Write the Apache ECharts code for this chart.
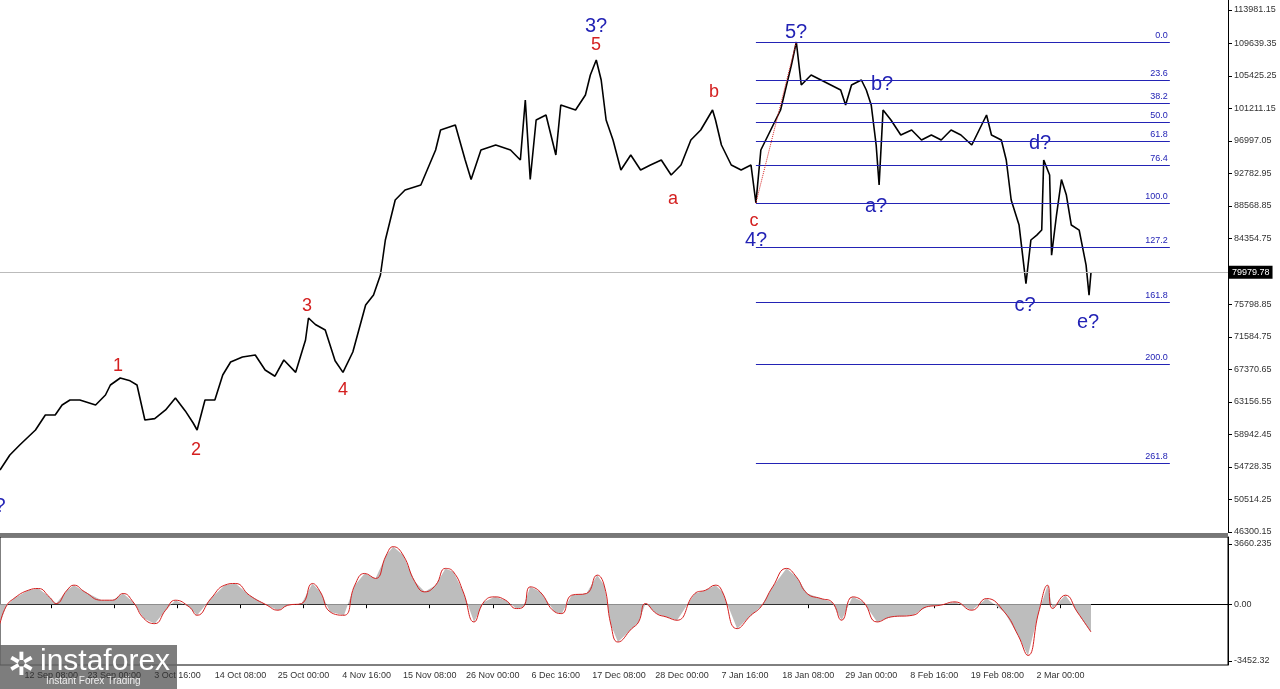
<!DOCTYPE html>
<html>
<head>
<meta charset="utf-8">
<script src="https://cdn.jsdelivr.net/npm/echarts@6/dist/echarts.min.js"></script>
<style>
  html, body { margin: 0; padding: 0; background: #fff; }
  #chart { width: 1280px; height: 689px; }
</style>
</head>
<body>
<div id="chart"></div>
<script>
// 4h bars, index -> date label
var barCount = 1247;
var startTime = Date.UTC(2024, 9, 14, 8) - 244 * 4 * 3600 * 1000;
var months = ['Jan', 'Feb', 'Mar', 'Apr', 'May', 'Jun', 'Jul', 'Aug', 'Sep', 'Oct', 'Nov', 'Dec'];
var categories = [];
for (var i = 0; i < barCount; i++) {
    var d = new Date(startTime + i * 4 * 3600 * 1000);
    var hh = d.getUTCHours();
    categories.push(d.getUTCDate() + ' ' + months[d.getUTCMonth()] + ' ' + (hh < 10 ? '0' + hh : hh) + ':00');
}

// price path [bar index, price]
var price = [
    [0, 54339], [10, 56284], [20, 57580], [36, 59525], [46, 61470], [56, 61470], [63, 62767], [71, 63415],
    [81, 63415], [97, 62767], [107, 64063], [112, 65360], [122, 66268], [132, 65900], [139, 65360], [147, 60822],
    [157, 61000], [168, 62119], [178, 63674], [188, 62000], [196, 60433], [200, 59525], [208, 63415], [218, 63415],
    [226, 66657], [234, 68342], [246, 68991], [259, 69250], [269, 67305], [279, 66500], [288, 68602], [300, 67000],
    [310, 71195], [313, 74047], [320, 73200], [330, 72491], [340, 68500], [348, 67000], [358, 69639], [371, 75733],
    [379, 77029], [386, 79623], [391, 84161], [401, 89347], [411, 90644], [427, 91292], [442, 95830], [447, 98423],
    [462, 99072], [472, 94534], [478, 92000], [488, 95830], [503, 96478], [518, 95830], [528, 94534], [533, 102313],
    [538, 92000], [544, 99720], [554, 100368], [564, 95182], [569, 101665], [584, 101017], [594, 102961], [599, 105555],
    [605, 107500], [610, 104906], [615, 99720], [622, 97127], [630, 93237], [640, 95182], [650, 93237], [660, 93885],
    [671, 94534], [681, 92589], [691, 93885], [701, 97127], [711, 98423], [723, 101017], [726, 99720], [732, 96478],
    [742, 93885], [752, 93237], [762, 93885], [767, 88958], [772, 95830], [782, 98423], [792, 101017], [803, 106851],
    [808, 109833], [813, 104258], [823, 105555], [833, 104906], [843, 104258], [853, 103610], [858, 101665], [864, 104258],
    [874, 104906], [879, 103610], [884, 101665], [889, 96478], [892, 91292], [896, 101017], [904, 99720], [914, 97773],
    [925, 98423], [935, 97127], [945, 97773], [955, 97127], [965, 98423], [975, 97773], [986, 96478], [1001, 100368],
    [1006, 97773], [1016, 97127], [1021, 94534], [1026, 89347], [1034, 86100], [1041, 78500], [1046, 84161], [1052, 84800],
    [1057, 85450], [1059, 94534], [1065, 92589], [1067, 82200], [1072, 87400], [1077, 92000], [1082, 89990], [1087, 86100],
    [1095, 85450], [1102, 80900], [1105, 77000], [1107, 79980]
];

// oscillator [position read on the zoomed crop, value]
var osc = [
    [0, -1180], [8, -163], [20, 345], [41, 854], [56, 955], [71, 447], [81, 41], [97, 854], [107, 1159], [122, 752],
    [147, 244], [163, 244], [178, 650], [193, 142], [208, -874], [224, -1180], [239, -366], [254, 244], [274, -163],
    [285, -671], [305, 345], [325, 1159], [341, 1261], [361, 549], [386, -61], [402, -366], [417, -61], [437, 41],
    [452, 1261], [463, 752], [478, -468], [498, -671], [513, 1159], [528, 1871], [544, 1566], [559, 2989], [569, 3497],
    [584, 2989], [600, 1363], [615, 752], [630, 1159], [645, 2176], [656, 1973], [671, 752], [686, -1078], [701, 142],
    [716, 447], [732, 244], [747, -264], [757, -163], [767, 1057], [782, 752], [803, -468], [813, -569], [828, 549],
    [849, 650], [864, 1769], [874, 1159], [884, -1281], [894, -2298], [914, -1485], [925, -1078], [935, 41], [950, -569],
    [965, -773], [980, -976], [1006, 650], [1021, 854], [1036, 1159], [1046, 752], [1067, -1485], [1087, -671],
    [1102, -163], [1118, 1057], [1138, 2176], [1153, 1667], [1168, 650], [1189, 345], [1204, 142], [1219, -976],
    [1234, 447], [1250, 142], [1270, -1078], [1290, -773], [1321, -671], [1341, -163], [1361, -61], [1382, 142],
    [1407, -366], [1428, 345], [1453, -468], [1473, -1891], [1488, -3111], [1504, -468], [1516, 1159], [1524, -264],
    [1542, 549], [1559, -468], [1579, -1688]
];
// the crop was read at 1.4266 px per bar
osc = osc.map(function(p) { return [Math.round(p[0] / 1.4266), p[1]]; });

var priceTicks = [46300.15, 50514.25, 54728.35, 58942.45, 63156.55, 67370.65, 71584.75, 75798.85,
    80012.95, 84354.75, 88568.85, 92782.95, 96997.05, 101211.15, 105425.25, 109639.35, 113981.15];
var oscTicks = [-3452.32, 0, 3660.235];
var lastPrice = 79979.78;

// fibonacci grid from wave 4? low to 5? high
var fibLow = 88958, fibHigh = 109833;
var fibLevels = [0, 23.6, 38.2, 50, 61.8, 76.4, 100, 127.2, 161.8, 200, 261.8];
var fibStart = 767, fibEnd = 1187;

var fibLines = fibLevels.map(function(l) {
    var v = fibHigh - (fibHigh - fibLow) * l / 100;
    return [{ coord: [fibStart, v], label: { formatter: l.toFixed(1) } }, { coord: [fibEnd, v] }];
});

// wave labels
var redLabels = [['1', 118, 366], ['2', 196, 450], ['3', 307, 306], ['4', 343, 390], ['5', 596, 45],
    ['a', 673, 199], ['b', 714, 92], ['c', 754, 221]];
var blueLabels = [['3?', 596, 26], ['4?', 756, 240], ['5?', 796, 32], ['a?', 876, 206], ['b?', 882, 84],
    ['c?', 1025, 305], ['d?', 1040, 143], ['e?', 1088, 322], ['?', 0, 506]];

var graphics = [];
redLabels.forEach(function(t) {
    graphics.push({ type: 'text', x: t[1], y: t[2], style: { text: t[0], fill: '#d42020', font: '18px Arial',
        textAlign: 'center', textVerticalAlign: 'middle' } });
});
blueLabels.forEach(function(t) {
    graphics.push({ type: 'text', x: t[1], y: t[2], style: { text: t[0], fill: '#2323b5', font: '20px Arial',
        textAlign: 'center', textVerticalAlign: 'middle' } });
});
graphics.push({ type: 'rect', shape: { x: 0, y: 533, width: 1228, height: 4 }, style: { fill: '#777' } });
graphics.push({ type: 'rect', shape: { x: 0, y: 645, width: 177, height: 44 }, style: { fill: '#666', opacity: 0.85 } });
graphics.push({ type: 'text', x: 40, y: 647, style: { text: 'instaforex', fill: '#fff', font: '30px Arial' } });
graphics.push({ type: 'text', x: 8, y: 650, style: { text: '✲', fill: '#fff', font: '32px Arial' } });
graphics.push({ type: 'text', x: 46, y: 676, style: { text: 'Instant Forex Trading', fill: '#eee', font: '10px Arial' } });

function showDate(i) { return i <= 1080 && (i - 52) % 64 === 0; }

var chart = echarts.init(document.getElementById('chart'));
chart.setOption({
    animation: false,
    grid: [
        { left: 0, right: 52, top: 0, height: 532 },
        { left: 0, right: 52, top: 537, height: 128, show: true, borderColor: '#000', borderWidth: 1 }
    ],
    xAxis: [
        { type: 'category', gridIndex: 0, data: categories, boundaryGap: false, show: false },
        {
            type: 'category', gridIndex: 1, data: categories, boundaryGap: false,
            axisLine: { lineStyle: { color: '#000' } },
            axisTick: { interval: showDate, length: 4, lineStyle: { color: '#000' } },
            axisLabel: { interval: showDate, fontSize: 9, color: '#333', fontFamily: 'Liberation Sans', margin: 6 }
        }
    ],
    yAxis: [
        {
            type: 'value', gridIndex: 0, position: 'right', min: 46300.15, max: 115279,
            splitLine: { show: false },
            axisLine: { show: true, lineStyle: { color: '#000', width: 1 } },
            axisTick: { show: true, customValues: priceTicks, length: 4, lineStyle: { color: '#000' } },
            axisLabel: { customValues: priceTicks, fontSize: 9, color: '#333', fontFamily: 'Liberation Sans',
                margin: 6, formatter: function(v) { return v.toFixed(2); } }
        },
        {
            type: 'value', gridIndex: 1, position: 'right', min: -3695, max: 4086,
            splitLine: { show: false },
            axisLine: { show: true, lineStyle: { color: '#000' } },
            axisTick: { show: true, customValues: oscTicks, length: 4, lineStyle: { color: '#000' } },
            axisLabel: { customValues: oscTicks, fontSize: 9, color: '#333', fontFamily: 'Liberation Sans',
                margin: 6, formatter: function(v) { return v === 0 ? '0.00' : String(v); } }
        }
    ],
    series: [
        {
            type: 'line', xAxisIndex: 0, yAxisIndex: 0, data: price, showSymbol: false,
            lineStyle: { color: '#000', width: 1.6 },
            markLine: {
                symbol: 'none', silent: true,
                data: fibLines.concat([
                    [{ coord: [767, fibLow], lineStyle: { color: '#d42020', type: 'dotted', width: 1 }, label: { show: false } },
                     { coord: [808, fibHigh] }],
                    [{ coord: [0, lastPrice], lineStyle: { color: '#bbb', type: 'solid', width: 1 },
                       label: { show: true, position: 'end', formatter: lastPrice.toFixed(2), backgroundColor: '#000',
                                color: '#fff', fontSize: 9, padding: [2, 3], distance: 1 } },
                     { coord: [barCount - 1, lastPrice] }]
                ]),
                lineStyle: { color: '#2323b5', type: 'solid', width: 1 },
                label: { position: 'insideEndTop', color: '#2323b5', fontSize: 9, fontFamily: 'Liberation Sans', distance: 2 }
            }
        },
        {
            type: 'line', xAxisIndex: 1, yAxisIndex: 1, data: osc, showSymbol: false,
            lineStyle: { width: 0 }, areaStyle: { color: '#bdbdbd', opacity: 1 }
        },
        {
            type: 'line', xAxisIndex: 1, yAxisIndex: 1, data: osc, showSymbol: false, smooth: true,
            lineStyle: { color: '#d42020', width: 1 }
        }
    ],
    graphic: graphics
});
</script>
</body>
</html>
